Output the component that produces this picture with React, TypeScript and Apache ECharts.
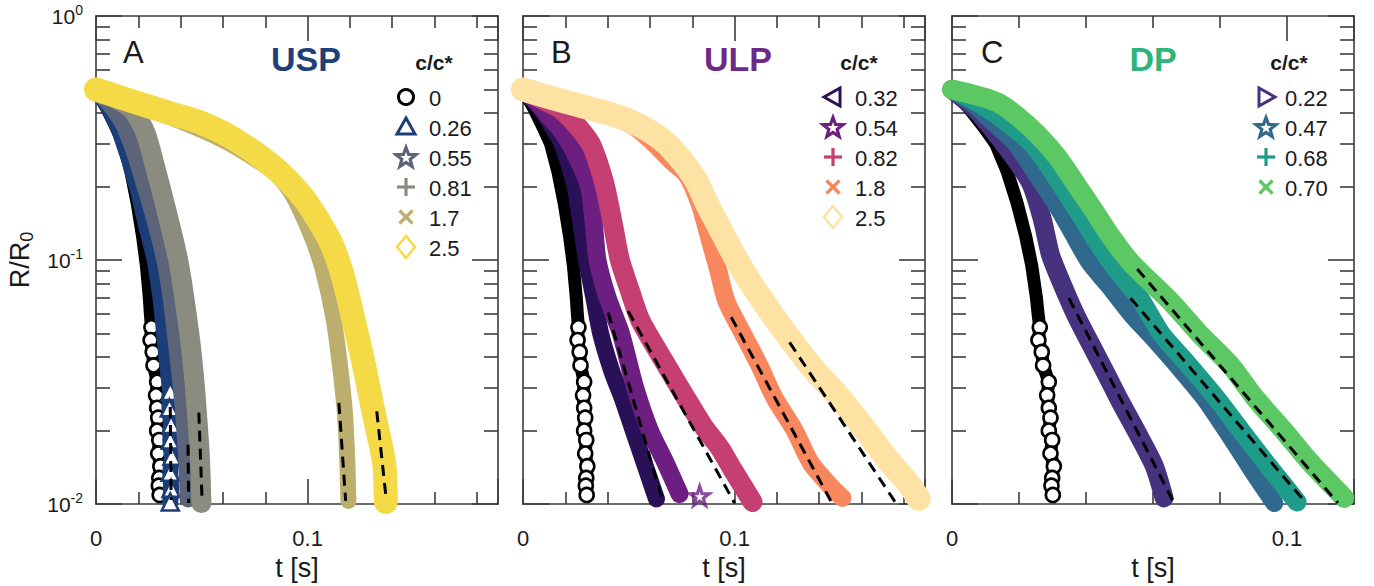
import React, { useEffect, useRef } from 'react';
import * as echarts from 'echarts';

type Pt = [number, number];

// ---------------- shared ticks ----------------
const xTickLabels = [0, 0.1];
const yMinorTicks = [0.02, 0.03, 0.04, 0.05, 0.06, 0.07, 0.08, 0.09, 0.2, 0.3, 0.4, 0.5, 0.6, 0.7, 0.8, 0.9];
const panelXMax = [0.19, 0.19, 0.12];
const panelLetters = ['A', 'B', 'C'];
const panelTitles = ['USP', 'ULP', 'DP'];
const legendTitle = 'c/c*';

// solvent (c/c* = 0), shown in every panel
const solvent: Pt[] = [[0, 0.5], [0.005, 0.42], [0.0095, 0.35], [0.013, 0.3], [0.0165, 0.23], [0.0195, 0.17], [0.022, 0.125], [0.0238, 0.095], [0.0252, 0.07], [0.0257, 0.06], [0.0262, 0.053], [0.0258, 0.047], [0.0268, 0.042], [0.0272, 0.037], [0.0289, 0.0317], [0.0284, 0.0279], [0.0289, 0.0248], [0.0294, 0.0226], [0.0289, 0.02], [0.0299, 0.0183], [0.0294, 0.0161], [0.0304, 0.0143], [0.0299, 0.0128], [0.0297, 0.0119], [0.0301, 0.0109]];

// ---------------- A: USP ----------------
const uspConc = ['0', '0.26', '0.55', '0.81', '1.7', '2.5'];
const usp026: Pt[] = [[0, 0.5], [0.006, 0.42], [0.011, 0.34], [0.0155, 0.26], [0.02, 0.19], [0.024, 0.135], [0.0278, 0.1], [0.0305, 0.07], [0.0322, 0.05], [0.0338, 0.036], [0.0351, 0.0289], [0.0347, 0.0248], [0.0355, 0.0212], [0.0351, 0.0183], [0.0359, 0.0157], [0.0351, 0.0135], [0.0355, 0.0116], [0.0351, 0.0102]];
const usp055: Pt[] = [[0, 0.5], [0.007, 0.43], [0.013, 0.36], [0.018, 0.28], [0.0225, 0.21], [0.027, 0.155], [0.0325, 0.1], [0.0355, 0.07], [0.0375, 0.05], [0.0395, 0.035], [0.041, 0.026], [0.042, 0.02], [0.043, 0.015], [0.0435, 0.0105]];
const usp081: Pt[] = [[0, 0.5], [0.009, 0.46], [0.0175, 0.41], [0.0235, 0.33], [0.028, 0.24], [0.0325, 0.17], [0.0389, 0.0995], [0.0441, 0.05], [0.0465, 0.032], [0.0483, 0.02], [0.0492, 0.015], [0.0498, 0.0101]];
const usp17: Pt[] = [[0, 0.5], [0.02, 0.43], [0.04, 0.37], [0.06, 0.31], [0.075, 0.26], [0.085, 0.225], [0.092, 0.19], [0.098, 0.15], [0.103, 0.118], [0.1074, 0.09], [0.1122, 0.058], [0.1153, 0.037], [0.1177, 0.0233], [0.1188, 0.0147], [0.1193, 0.0103]];
const usp25: Pt[] = [[0, 0.5], [0.018, 0.445], [0.035, 0.4], [0.049, 0.367], [0.065, 0.314], [0.081, 0.252], [0.09, 0.215], [0.098, 0.18], [0.105, 0.146], [0.111, 0.118], [0.116, 0.09], [0.1215, 0.058], [0.1267, 0.037], [0.1314, 0.0233], [0.1362, 0.0147], [0.137, 0.0102]];
const uspFits: Pt[][] = [[[0.0351, 0.025], [0.0355, 0.0104]], [[0.0435, 0.0175], [0.0438, 0.0101]], [[0.0486, 0.0237], [0.0501, 0.0106]], [[0.1148, 0.026], [0.118, 0.0103]], [[0.1327, 0.024], [0.137, 0.0108]]];

// ---------------- B: ULP ----------------
const ulpConc = ['0.32', '0.54', '0.82', '1.8', '2.5'];
const ulp032: Pt[] = [[0, 0.5], [0.008, 0.42], [0.014, 0.35], [0.0184, 0.3], [0.0215, 0.25], [0.0246, 0.2], [0.0275, 0.14], [0.03, 0.1], [0.0335, 0.07], [0.0367, 0.05], [0.042, 0.035], [0.047, 0.027], [0.0521, 0.02], [0.057, 0.015], [0.0631, 0.0105]];
const ulp054: Pt[] = [[0, 0.5], [0.006, 0.45], [0.012, 0.39], [0.018, 0.34], [0.024, 0.28], [0.0312, 0.2], [0.0335, 0.14], [0.0352, 0.1], [0.04, 0.07], [0.0463, 0.05], [0.053, 0.03], [0.06, 0.02], [0.067, 0.015], [0.074, 0.011]];
const ulp054Outlier: Pt[] = [[0.0835, 0.0108]];
const ulp082: Pt[] = [[0, 0.5], [0.008, 0.46], [0.017, 0.42], [0.025, 0.36], [0.032, 0.3], [0.0355, 0.25], [0.0388, 0.2], [0.0425, 0.14], [0.0458, 0.1], [0.0505, 0.075], [0.0553, 0.057], [0.062, 0.045], [0.0725, 0.0316], [0.085, 0.021], [0.093, 0.017], [0.099, 0.0139], [0.1085, 0.0102]];
const ulp18: Pt[] = [[0, 0.5], [0.02, 0.45], [0.04, 0.4], [0.053, 0.35], [0.062, 0.3], [0.07, 0.255], [0.0774, 0.223], [0.0835, 0.17], [0.0874, 0.129], [0.0921, 0.092], [0.0961, 0.068], [0.1039, 0.05], [0.1118, 0.0369], [0.1188, 0.0273], [0.1283, 0.0201], [0.1361, 0.0147], [0.1463, 0.0116], [0.151, 0.0106]];
const ulp25: Pt[] = [[0, 0.5], [0.02, 0.445], [0.04, 0.4], [0.052, 0.367], [0.066, 0.31], [0.076, 0.25], [0.082, 0.21], [0.087, 0.17], [0.094, 0.13], [0.101, 0.1], [0.11, 0.075], [0.1243, 0.05], [0.137, 0.036], [0.1498, 0.0272], [0.162, 0.02], [0.1738, 0.0147], [0.182, 0.0122], [0.187, 0.0105]];
const ulpFits: Pt[][] = [[[0.0403, 0.0608], [0.0655, 0.0106]], [[0.0497, 0.0618], [0.1, 0.0101]], [[0.0984, 0.0583], [0.1463, 0.01]], [[0.126, 0.046], [0.1762, 0.0101]]];

// ---------------- C: DP ----------------
const dpConc = ['0.22', '0.47', '0.68', '0.70'];
const dp022: Pt[] = [[0, 0.5], [0.007, 0.414], [0.016, 0.293], [0.0234, 0.208], [0.0269, 0.148], [0.0294, 0.105], [0.0324, 0.0826], [0.0369, 0.0597], [0.0414, 0.0452], [0.0459, 0.0344], [0.0503, 0.0262], [0.0553, 0.0196], [0.0603, 0.0144], [0.0633, 0.0106]];
const dp047: Pt[] = [[0, 0.5], [0.006, 0.44], [0.012, 0.37], [0.019, 0.3], [0.026, 0.216], [0.031, 0.17], [0.036, 0.129], [0.041, 0.098], [0.047, 0.078], [0.0535, 0.06], [0.06, 0.048], [0.068, 0.036], [0.0755, 0.027], [0.083, 0.019], [0.09, 0.0135], [0.0962, 0.0101]];
const dp068: Pt[] = [[0, 0.5], [0.008, 0.44], [0.016, 0.37], [0.0244, 0.294], [0.03, 0.23], [0.0345, 0.185], [0.039, 0.148], [0.0445, 0.112], [0.05, 0.088], [0.056, 0.07], [0.0624, 0.05], [0.07, 0.038], [0.0788, 0.0273], [0.0875, 0.019], [0.095, 0.014], [0.1, 0.0115], [0.103, 0.0102]];
const dp070: Pt[] = [[0, 0.5], [0.0135, 0.443], [0.0234, 0.349], [0.0314, 0.265], [0.0374, 0.201], [0.0424, 0.159], [0.0474, 0.125], [0.0533, 0.098], [0.0651, 0.068], [0.0738, 0.05], [0.0832, 0.037], [0.0904, 0.0273], [0.099, 0.02], [0.1072, 0.0147], [0.1171, 0.0106]];
const dpFits: Pt[][] = [[[0.0349, 0.0698], [0.0663, 0.0101]], [[0.0533, 0.0698], [0.1057, 0.0101]], [[0.0553, 0.0919], [0.1152, 0.0101]]];

// ---------------- styling ----------------
const FONT = '"Liberation Sans", Arial, Helvetica, sans-serif';
const TXT = '#1a1a1a';
const AX = '#3c3c3c';
const GRID_LEFT = [96, 523, 952];
const GRID_TOP = 16;
const GRID_W = 402;
const GRID_H = 503;

const STAR = 'path://M50,0 L61.8,35.1 L98.9,35.5 L69.1,57.6 L80.2,93.1 L50,71.7 L19.8,93.1 L30.9,57.6 L1.1,35.5 L38.2,35.1 Z';
const SYMBOLS: Record<string, { symbol: string; rotate: number }> = {
  circle: { symbol: 'circle', rotate: 0 },
  triangle: { symbol: 'triangle', rotate: 0 },
  triangleLeft: { symbol: 'triangle', rotate: 90 },
  triangleRight: { symbol: 'triangle', rotate: -90 },
  star: { symbol: STAR, rotate: 0 },
  plus: { symbol: 'path://M50,0 L50,100 M0,50 L100,50', rotate: 0 },
  cross: { symbol: 'path://M0,0 L100,100 M100,0 L0,100', rotate: 0 },
  diamond: { symbol: 'diamond', rotate: 0 },
};

type SerDef = { data: Pt[]; color: string; marker: string; width: number; tail?: number; legend?: string };

const panels: { series: SerDef[]; fits: Pt[][]; titleColor: string; legendX: number; textX: number; titleX: number; letterX: number; cX: number }[] = [
  {
    series: [
      { data: solvent, color: '#000000', marker: 'circle', width: 13, tail: 0.056, legend: uspConc[0] },
      { data: usp026, color: '#1c3e78', marker: 'triangle', width: 16, tail: 0.03, legend: uspConc[1] },
      { data: usp055, color: '#5b6478', marker: 'star', width: 17, legend: uspConc[2] },
      { data: usp081, color: '#8c8b80', marker: 'plus', width: 20, legend: uspConc[3] },
      { data: usp17, color: '#bcaf6e', marker: 'cross', width: 16, legend: uspConc[4] },
      { data: usp25, color: '#f5da47', marker: 'diamond', width: 24, legend: uspConc[5] },
    ],
    fits: uspFits, titleColor: '#1f3f78', legendX: 406, textX: 429, titleX: 306, letterX: 123, cX: 434,
  },
  {
    series: [
      { data: solvent, color: '#000000', marker: 'circle', width: 13, tail: 0.056 },
      { data: ulp032, color: '#2a1157', marker: 'triangleLeft', width: 17, legend: ulpConc[0] },
      { data: ulp054, color: '#6d1f81', marker: 'star', width: 18, legend: ulpConc[1] },
      { data: ulp082, color: '#c53f73', marker: 'plus', width: 20, legend: ulpConc[2] },
      { data: ulp18, color: '#f8875e', marker: 'cross', width: 18, legend: ulpConc[3] },
      { data: ulp25, color: '#fde2a3', marker: 'diamond', width: 24, legend: ulpConc[4] },
    ],
    fits: ulpFits, titleColor: '#6b2a88', legendX: 833, textX: 855, titleX: 738, letterX: 551, cX: 859,
  },
  {
    series: [
      { data: solvent, color: '#000000', marker: 'circle', width: 13, tail: 0.056 },
      { data: dp022, color: '#46327e', marker: 'triangleRight', width: 19, legend: dpConc[0] },
      { data: dp047, color: '#30688e', marker: 'star', width: 18, legend: dpConc[1] },
      { data: dp068, color: '#1f9b8a', marker: 'plus', width: 19, legend: dpConc[2] },
      { data: dp070, color: '#5cc863', marker: 'cross', width: 20, legend: dpConc[3] },
    ],
    fits: dpFits, titleColor: '#2db57b', legendX: 1266, textX: 1285, titleX: 1153, letterX: 981, cX: 1289,
  },
];

const LEGEND_ROWS = [97, 127, 157, 187, 217, 247];

function legendMarker(kind: string, cx: number, cy: number, color: string): any {
  const st = { fill: 'none', stroke: color, lineWidth: 3 };
  if (kind === 'circle') return { type: 'circle', shape: { cx, cy, r: 7.5 }, style: st };
  if (kind === 'triangle') return { type: 'polygon', shape: { points: [[cx, cy - 9], [cx + 9, cy + 7], [cx - 9, cy + 7]] }, style: st };
  if (kind === 'triangleLeft') return { type: 'polygon', shape: { points: [[cx - 9, cy], [cx + 7, cy - 9], [cx + 7, cy + 9]] }, style: st };
  if (kind === 'triangleRight') return { type: 'polygon', shape: { points: [[cx + 9, cy], [cx - 7, cy - 9], [cx - 7, cy + 9]] }, style: st };
  if (kind === 'diamond') return { type: 'polygon', shape: { points: [[cx, cy - 11], [cx + 9, cy], [cx, cy + 11], [cx - 9, cy]] }, style: { ...st, lineWidth: 2.5 } };
  if (kind === 'star') {
    const pts: number[][] = [];
    for (let k = 0; k < 10; k++) {
      const r = k % 2 === 0 ? 10.5 : 4.4;
      const a = -Math.PI / 2 + (k * Math.PI) / 5;
      pts.push([cx + r * Math.cos(a), cy + 1 + r * Math.sin(a)]);
    }
    return { type: 'polygon', shape: { points: pts }, style: { ...st, lineWidth: 3.2, lineJoin: 'miter' } };
  }
  if (kind === 'plus') {
    return {
      type: 'group', children: [
        { type: 'line', shape: { x1: cx - 9, y1: cy, x2: cx + 9, y2: cy }, style: { stroke: color, lineWidth: 3.2 } },
        { type: 'line', shape: { x1: cx, y1: cy - 9, x2: cx, y2: cy + 9 }, style: { stroke: color, lineWidth: 3.2 } },
      ],
    };
  }
  return {
    type: 'group', children: [
      { type: 'line', shape: { x1: cx - 6.5, y1: cy - 6.5, x2: cx + 6.5, y2: cy + 6.5 }, style: { stroke: color, lineWidth: 3.2 } },
      { type: 'line', shape: { x1: cx + 6.5, y1: cy - 6.5, x2: cx - 6.5, y2: cy + 6.5 }, style: { stroke: color, lineWidth: 3.2 } },
    ],
  };
}

function textEl(text: string, x: number, y: number, size: number, color: string, align: string, bold = false): any {
  return {
    type: 'text', x, y, z: 100,
    style: { text, fill: color, fontSize: size, fontFamily: FONT, fontWeight: bold ? 'bold' : 'normal', align, verticalAlign: 'middle', textAlign: align, textVerticalAlign: 'middle' },
  };
}

function buildOption(): any {
  const grid: any[] = [];
  const xAxis: any[] = [];
  const yAxis: any[] = [];
  const series: any[] = [];
  const graphic: any[] = [];
  const lineSt = { color: AX, width: 1.6 };

  panels.forEach((p, i) => {
    grid.push({ left: GRID_LEFT[i], top: GRID_TOP, width: GRID_W, height: GRID_H, containLabel: false });
    const xCommon = {
      gridIndex: i, type: 'value', min: 0, max: panelXMax[i], interval: 0.1,
      axisLine: { show: true, onZero: false, lineStyle: lineSt },
      axisTick: { show: true, inside: true, length: 25, lineStyle: lineSt },
      minorTick: { show: true, splitNumber: 5, length: 12, lineStyle: lineSt },
      splitLine: { show: false }, minorSplitLine: { show: false },
    };
    xAxis.push({
      ...xCommon, position: 'bottom',
      axisLabel: {
        show: true, margin: 23, fontSize: 22, color: TXT, fontFamily: FONT, showMaxLabel: false,
        formatter: (v: number) => (xTickLabels.some((x) => Math.abs(x - v) < 1e-9) ? String(v) : ''),
      },
      name: 't [s]', nameLocation: 'middle', nameGap: 47,
      nameTextStyle: { fontSize: 27, color: TXT, fontFamily: FONT },
    });
    xAxis.push({ ...xCommon, position: 'top', axisLabel: { show: false } });

    const yCommon = { gridIndex: i, type: 'log', logBase: 10, min: 0.01, max: 1, splitLine: { show: false } };
    const yMajorLeft: any = {
      ...yCommon, position: 'left',
      axisLine: { show: true, onZero: false, lineStyle: lineSt },
      axisTick: { show: true, inside: true, length: 26, lineStyle: lineSt },
      axisLabel: { show: false },
    };
    if (i === 0) {
      yMajorLeft.axisLabel = {
        show: true, margin: 13,
        formatter: (v: number) => `{b|10}{s|${Math.round(Math.log10(v))}}`,
        rich: {
          b: { fontSize: 21, fontFamily: FONT, color: TXT },
          s: { fontSize: 14, fontFamily: FONT, color: TXT, padding: [0, 0, 12, 0] },
        },
      };
      yMajorLeft.name = '{a|R/R}{b|0}';
      yMajorLeft.nameLocation = 'middle';
      yMajorLeft.nameRotate = 90;
      yMajorLeft.nameGap = 60;
      yMajorLeft.nameTextStyle = {
        rich: {
          a: { fontSize: 27, fontFamily: FONT, color: TXT },
          b: { fontSize: 18, fontFamily: FONT, color: TXT, padding: [15, 0, 0, 0] },
        },
      };
    }
    yAxis.push(yMajorLeft);
    yAxis.push({
      ...yCommon, position: 'left', axisLine: { show: false, onZero: false },
      axisTick: { show: true, inside: true, length: 14, customValues: yMinorTicks, lineStyle: lineSt },
      axisLabel: { show: false },
    });
    yAxis.push({
      ...yCommon, position: 'right',
      axisLine: { show: true, onZero: false, lineStyle: lineSt },
      axisTick: { show: true, inside: true, length: 26, lineStyle: lineSt },
      axisLabel: { show: false },
    });
    yAxis.push({
      ...yCommon, position: 'right', axisLine: { show: false, onZero: false },
      axisTick: { show: true, inside: true, length: 14, customValues: yMinorTicks, lineStyle: lineSt },
      axisLabel: { show: false },
    });

    p.series.forEach((s, k) => {
      const m = SYMBOLS[s.marker];
      const tail = s.tail || 0;
      series.push({
        type: 'line', xAxisIndex: 2 * i, yAxisIndex: 4 * i,
        data: s.data.map(([t, r]) => (r < tail ? { value: [t, r], symbol: m.symbol, symbolSize: s.width + 1, itemStyle: { color: '#ffffff', borderColor: s.color, borderWidth: 2.6 } } : { value: [t, r], symbol: 'none' })),
        smooth: tail ? false : 0.25,
        symbol: m.symbol, symbolRotate: m.rotate,
        showSymbol: true, clip: false, silent: true,
        lineStyle: { color: s.color, width: s.width, cap: 'round', join: 'round' },
        itemStyle: { color: s.color },
        z: 2 + k,
      });
    });
    if (i === 1) {
      const s = p.series[2];
      series.push({
        type: 'scatter', xAxisIndex: 2, yAxisIndex: 4, data: ulp054Outlier,
        symbol: STAR, symbolSize: 19, clip: false, silent: true,
        itemStyle: { color: 'rgba(255,255,255,0)', borderColor: s.color, borderWidth: 3.2 }, z: 4,
      });
    }
    p.fits.forEach((f) => {
      series.push({
        type: 'line', xAxisIndex: 2 * i, yAxisIndex: 4 * i, data: f,
        symbol: 'none', clip: false, silent: true,
        lineStyle: { color: '#000', width: 3, type: [11, 7] }, z: 20,
      });
    });

    graphic.push(textEl(panelLetters[i], p.letterX, 52, 31, TXT, 'left'));
    graphic.push(textEl(panelTitles[i], p.titleX, 59, 34, p.titleColor, 'center', true));
    graphic.push(textEl(legendTitle, p.cX, 62, 21, TXT, 'center', true));
    p.series.filter((s) => s.legend !== undefined).forEach((s, k) => {
      const mk = legendMarker(s.marker, p.legendX, LEGEND_ROWS[k], s.color);
      mk.z = 100;
      graphic.push(mk);
      graphic.push(textEl(s.legend as string, p.textX, LEGEND_ROWS[k] + 1, 22, TXT, 'left'));
    });
  });

  return { animation: false, backgroundColor: '#ffffff', grid, xAxis, yAxis, series, graphic };
}

export default function App() {
  const ref = useRef<HTMLDivElement>(null);
  useEffect(() => {
    const chart = echarts.init(ref.current as HTMLDivElement, null, { renderer: 'svg' });
    chart.setOption(buildOption());
    return () => chart.dispose();
  }, []);
  return <div ref={ref} style={{ position: 'fixed', left: 0, top: 0, width: 1374, height: 586, background: '#fff' }} />;
}
